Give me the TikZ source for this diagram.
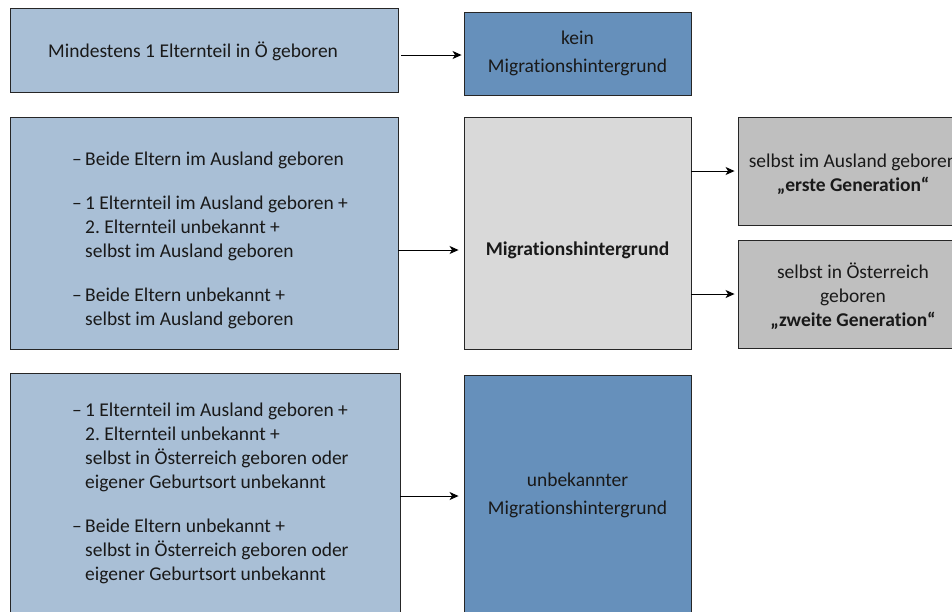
\documentclass[tikz,border=0pt]{standalone}
\usepackage{fontspec}
\setmainfont{Carlito}[Ligatures=NoCommon]
\usetikzlibrary{arrows.meta,calc}
\definecolor{lightblue}{HTML}{A9BFD6}
\definecolor{midblue}{HTML}{6690BB}
\definecolor{lightgray}{HTML}{D9D9D9}
\definecolor{midgray}{HTML}{BFBFBF}
\definecolor{edgecol}{HTML}{262626}
\newcommand\ditem{\makebox[13pt][l]{–}}
\newcommand\dcont{\hspace*{13pt}}
\frenchspacing
\begin{document}
\begin{tikzpicture}[x=1pt,y=-1pt,
  box/.style={draw=edgecol, line width=0.9pt, rectangle, inner sep=0pt},
  txt/.style={font=\fontsize{19.5}{24}\selectfont, inner sep=0pt, text=black!90},
  bigtxt/.style={font=\fontsize{19.5}{28}\selectfont, inner sep=0pt, text=black!90},
  arr/.style={-{Stealth[length=9pt,width=8pt,inset=2.5pt]}, line width=0.9pt, black},
]
\clip (0,0) rectangle (952,611);
\fill[white] (0,0) rectangle (952,611);
% boxes
\node[box, fill=lightblue, minimum width=388pt, minimum height=84pt] (A1) at (204,50) {};
\node[box, fill=midblue, minimum width=227pt, minimum height=83pt] (B1) at (577.5,53.5) {};
\node[box, fill=lightblue, minimum width=388pt, minimum height=232pt] (A2) at (204,233) {};
\node[box, fill=lightgray, minimum width=227pt, minimum height=232pt] (B2) at (577.5,233) {};
\node[box, fill=midgray, minimum width=230pt, minimum height=108pt] (C1) at (853,171) {};
\node[box, fill=midgray, minimum width=230pt, minimum height=108pt] (C2) at (853,294) {};
\node[box, fill=lightblue, minimum width=390pt, minimum height=246pt] (A3) at (205,496) {};
\node[box, fill=midblue, minimum width=227pt, minimum height=244pt] (B3) at (577.5,497) {};
% texts (base anchor = baseline of the last line)
\node[txt, anchor=base west] (A1t) at (48,57) {Mindestens 1 Elternteil in Ö geboren};
\node[bigtxt, anchor=base, align=center] (B1t) at (577.5,72) {kein\\Migrationshintergrund};
\node[txt, anchor=base west, align=left] (A2t) at (72,325) {%
\ditem Beide Eltern im Ausland geboren\\[20pt]
\ditem 1 Elternteil im Ausland geboren +\\
\dcont 2. Elternteil unbekannt +\\
\dcont selbst im Ausland geboren\\[20pt]
\ditem Beide Eltern unbekannt +\\
\dcont selbst im Ausland geboren};
\node[txt, anchor=base] (B2t) at (577.5,255) {\bfseries Migrationshintergrund};
\node[txt, anchor=base, align=center] (C1t) at (853,191) {selbst im Ausland geboren\\\bfseries „erste Generation“};
\node[txt, anchor=base, align=center] (C2t) at (853,326) {selbst in Österreich\\geboren\\\bfseries „zweite Generation“};
\node[txt, anchor=base west, align=left] (A3t) at (72,580) {%
\ditem 1 Elternteil im Ausland geboren +\\
\dcont 2. Elternteil unbekannt +\\
\dcont selbst in Österreich geboren oder\\
\dcont eigener Geburtsort unbekannt\\[20pt]
\ditem Beide Eltern unbekannt +\\
\dcont selbst in Österreich geboren oder\\
\dcont eigener Geburtsort unbekannt};
\node[bigtxt, anchor=base, align=center] (B3t) at (577.5,514) {unbekannter\\Migrationshintergrund};
% arrows
\draw[arr, shorten <=3pt, shorten >=2pt] ([yshift=-5pt]A1.east) -- ([yshift=-5pt]A1.east -| B1.west);
\draw[arr, shorten >=5pt] ([yshift=-17pt]A2.east) -- ([yshift=-17pt]A2.east -| B2.west);
\draw[arr, shorten >=3pt] (B2.east |- C1.west) -- (C1.west);
\draw[arr, shorten >=3pt] (B2.east |- C2.west) -- (C2.west);
\draw[arr, shorten >=5pt] (A3.east) -- (A3.east -| B3.west);
\end{tikzpicture}
\end{document}
